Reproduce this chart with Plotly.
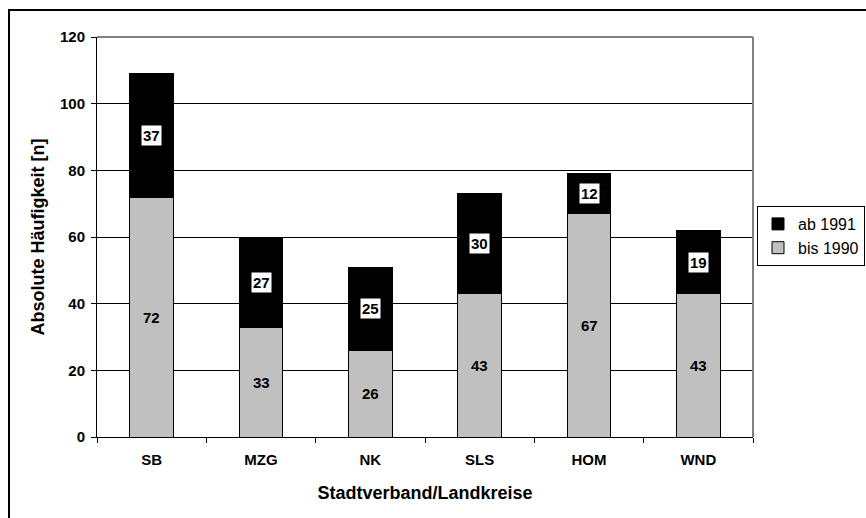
import plotly.graph_objects as go

categories = ["SB", "MZG", "NK", "SLS", "HOM", "WND"]
bis_1990 = [72, 33, 26, 43, 67, 43]
ab_1991 = [37, 27, 25, 30, 12, 19]
y_ticks = [0, 20, 40, 60, 80, 100, 120]

FONT = "Liberation Sans, Arial, sans-serif"

fig = go.Figure()
fig.add_trace(go.Bar(x=categories, y=bis_1990, name="bis 1990",
                     marker=dict(color="#C0C0C0", line=dict(color="black", width=1)),
                     width=0.4))
fig.add_trace(go.Bar(x=categories, y=ab_1991, name="ab 1991",
                     marker=dict(color="black", line=dict(color="black", width=1)),
                     width=0.4))

for c, b, a in zip(categories, bis_1990, ab_1991):
    fig.add_annotation(x=c, y=b / 2, text=str(b), showarrow=False,
                       font=dict(family=FONT, size=15, color="black", weight="bold"))
    fig.add_annotation(x=c, y=b + a / 2, text=str(a), showarrow=False,
                       bgcolor="white", borderpad=1,
                       font=dict(family=FONT, size=15, color="black", weight="bold"))

# outer chart frame
fig.add_shape(type="rect", xref="paper", yref="paper",
              x0=(9 - 97) / 656, x1=1.3, y0=-0.3, y1=1 + (37 - 10) / 400,
              line=dict(color="black", width=2), layer="below")
# gray top/right plot border
fig.add_shape(type="line", xref="paper", yref="paper", x0=0, x1=1, y0=1, y1=1,
              line=dict(color="#808080", width=2))
fig.add_shape(type="line", xref="paper", yref="paper", x0=1, x1=1, y0=0, y1=1,
              line=dict(color="#808080", width=2))

fig.update_layout(
    width=866, height=518,
    margin=dict(l=97, r=113, t=37, b=81, autoexpand=False),
    barmode="stack",
    paper_bgcolor="white", plot_bgcolor="white",
    font=dict(family=FONT, color="black"),
    showlegend=True,
    legend=dict(x=(757 - 97) / 656, y=(437 - 206) / 400, xanchor="left", yanchor="top",
                traceorder="reversed", bordercolor="black", borderwidth=1,
                bgcolor="white", font=dict(family=FONT, size=16, color="black"),
                itemwidth=30, tracegroupgap=0),
    xaxis=dict(
        showline=True, linecolor="black", linewidth=1,
        ticks="outside", ticklen=5, tickcolor="black", tickson="boundaries",
        ticklabelstandoff=9,
        tickfont=dict(family=FONT, size=15, weight="bold"),
        title=dict(text="Stadtverband/Landkreise", standoff=19,
                   font=dict(family=FONT, size=18, weight="bold")),
        automargin=False,
    ),
    yaxis=dict(
        range=[0, 120], tickvals=y_ticks,
        showline=True, linecolor="black", linewidth=1,
        showgrid=True, gridcolor="black", gridwidth=1,
        ticks="outside", ticklen=5, tickcolor="black",
        ticklabelstandoff=3,
        tickfont=dict(family=FONT, size=15, weight="bold"),
        title=dict(text="Absolute Häufigkeit [n]", standoff=10,
                   font=dict(family=FONT, size=18, weight="bold")),
        zeroline=False, automargin=False,
    ),
)

fig.write_html("out.html", config={"displayModeBar": False},
               post_script="document.body.style.margin='0px';")
